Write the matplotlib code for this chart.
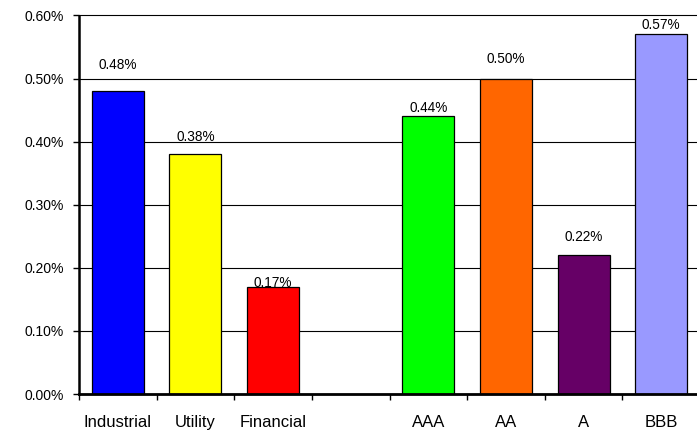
import numpy as np
import matplotlib
matplotlib.use("Agg")
import matplotlib.pyplot as plt
from matplotlib.ticker import FuncFormatter, MultipleLocator

plt.rcParams['font.family'] = ['Liberation Sans', 'DejaVu Sans']

# sectors, a blank slot, then ratings
categories = ['Industrial', 'Utility', 'Financial', '', 'AAA', 'AA', 'A', 'BBB']
values = [0.48, 0.38, 0.17, None, 0.44, 0.50, 0.22, 0.57]  # percent
colors = ['#0000FF', '#FFFF00', '#FF0000', None, '#00FF00', '#FF6600', '#660066', '#9999FF']
# how far each value label sits above its bar (pixels)
label_lift = [26, 17, 4, None, 8, 20, 18, 9]

fig = plt.figure(figsize=(6.97, 4.30), dpi=100)
ax = fig.add_axes([79 / 697, 36 / 430, 621 / 697, 378.5 / 430])

x = np.arange(len(categories))
for xi, v, c, lift in zip(x, values, colors, label_lift):
    if v is None:
        continue
    ax.bar(xi, v, width=0.67, color=c, edgecolor='black', linewidth=0.9, zorder=3)
    ax.annotate(f'{v:.2f}%', (xi, v), xytext=(0, lift), textcoords='offset pixels',
                ha='center', va='center', fontsize=9.8, zorder=4)

ax.set_xlim(-0.5, len(categories) - 0.5)
ax.set_ylim(0, 0.60)

# y axis: percent ticks every 0.10
ax.yaxis.set_major_locator(MultipleLocator(0.10))
ax.yaxis.set_major_formatter(FuncFormatter(lambda v, _: f'{v:.2f}%'))
ax.tick_params(axis='y', direction='out', length=4, width=1, pad=7, labelsize=10)
ax.yaxis.grid(True, color='black', linewidth=0.8, zorder=0)
for gl in ax.get_ygridlines():
    gl.set_clip_on(False)

# x axis: tick marks between categories, labels centred in each slot
ax.set_xticks(np.arange(-0.5, len(categories) + 0.5, 1.0))
ax.set_xticklabels([])
ax.set_xticks(x, minor=True)
ax.set_xticklabels(categories, minor=True)
ax.tick_params(axis='x', which='major', direction='out', length=4, width=1)
ax.tick_params(axis='x', which='minor', length=0, pad=15, labelsize=12)

for side in ('top', 'right'):
    ax.spines[side].set_visible(False)
ax.spines['left'].set_linewidth(1.8)
ax.spines['bottom'].set_linewidth(2.0)
ax.spines['left'].set_zorder(5)
ax.spines['bottom'].set_zorder(5)
ax.set_axisbelow(True)

fig.savefig('out.png', dpi=100)
